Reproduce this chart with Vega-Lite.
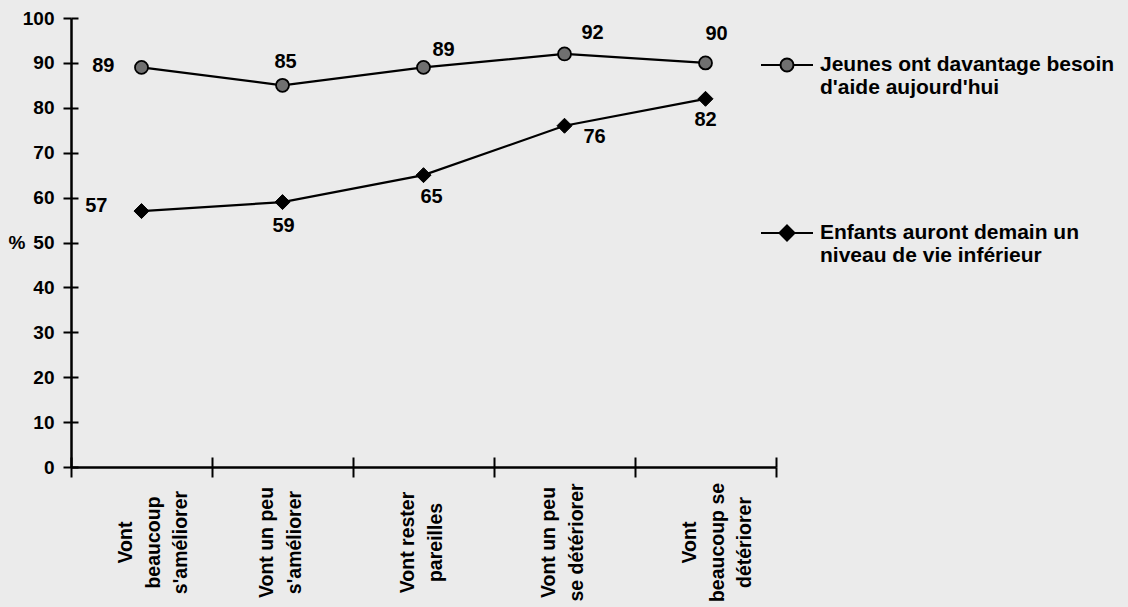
{
  "$schema": "https://vega.github.io/schema/vega-lite/v6.json",
  "width": 705,
  "height": 449,
  "autosize": {"type": "none"},
  "padding": {"left": 71, "top": 18, "right": 352, "bottom": 140},
  "background": "#ebebeb",
  "config": {
    "font": "Liberation Sans",
    "view": {"stroke": null},
    "text": {"font": "Liberation Sans", "fontSize": 20, "fontWeight": "bold", "color": "black", "baseline": "middle"}
  },
  "data": {
    "values": [
      {"cat": "Vont beaucoup s'améliorer", "serie": "Jeunes ont davantage besoin d'aide aujourd'hui", "pct": 89},
      {"cat": "Vont un peu s'améliorer", "serie": "Jeunes ont davantage besoin d'aide aujourd'hui", "pct": 85},
      {"cat": "Vont rester pareilles", "serie": "Jeunes ont davantage besoin d'aide aujourd'hui", "pct": 89},
      {"cat": "Vont un peu se détériorer", "serie": "Jeunes ont davantage besoin d'aide aujourd'hui", "pct": 92},
      {"cat": "Vont beaucoup se détériorer", "serie": "Jeunes ont davantage besoin d'aide aujourd'hui", "pct": 90},
      {"cat": "Vont beaucoup s'améliorer", "serie": "Enfants auront demain un niveau de vie inférieur", "pct": 57},
      {"cat": "Vont un peu s'améliorer", "serie": "Enfants auront demain un niveau de vie inférieur", "pct": 59},
      {"cat": "Vont rester pareilles", "serie": "Enfants auront demain un niveau de vie inférieur", "pct": 65},
      {"cat": "Vont un peu se détériorer", "serie": "Enfants auront demain un niveau de vie inférieur", "pct": 76},
      {"cat": "Vont beaucoup se détériorer", "serie": "Enfants auront demain un niveau de vie inférieur", "pct": 82}
    ]
  },
  "encoding": {
    "x": {
      "field": "cat",
      "type": "nominal",
      "sort": ["Vont beaucoup s'améliorer", "Vont un peu s'améliorer", "Vont rester pareilles", "Vont un peu se détériorer", "Vont beaucoup se détériorer"],
      "scale": {"type": "band", "paddingInner": 0, "paddingOuter": 0},
      "axis": {
        "title": null,
        "tickBand": "extent",
        "labelAngle": -90,
        "labelAlign": "center",
        "labelBaseline": "middle",
        "labelPadding": 65,
        "labelOffset": -16,
        "labelFont": "Liberation Sans",
        "labelFontSize": 19.5,
        "labelFontWeight": "bold",
        "labelColor": "black",
        "labelLineHeight": 27.5,
        "labelLimit": 400,
        "labelOverlap": false,
        "labelExpr": "{\"Vont beaucoup s'améliorer\": ['Vont', 'beaucoup', \"s'améliorer\"], \"Vont un peu s'améliorer\": ['Vont un peu', \"s'améliorer\"], 'Vont rester pareilles': ['Vont rester', 'pareilles'], 'Vont un peu se détériorer': ['Vont un peu', 'se détériorer'], 'Vont beaucoup se détériorer': ['Vont', 'beaucoup se', 'détériorer']}[datum.label]",
        "domainColor": "black",
        "domainWidth": 2.5,
        "tickColor": "black",
        "tickWidth": 2,
        "tickSize": 10,
        "grid": true,
        "gridColor": "black",
        "gridOpacity": 1,
        "gridWidth": 2,
        "gridDash": [0, 439, 10, 1000]
      }
    },
    "y": {
      "field": "pct",
      "type": "quantitative",
      "scale": {"domain": [0, 100], "nice": false},
      "axis": {
        "title": "%",
        "titleAngle": 0,
        "titleAlign": "left",
        "titleBaseline": "middle",
        "titleX": -63,
        "titleY": 224.5,
        "titleFont": "Liberation Sans",
        "titleFontSize": 19,
        "titleFontWeight": "bold",
        "titleColor": "black",
        "values": [0, 10, 20, 30, 40, 50, 60, 70, 80, 90, 100],
        "labelFont": "Liberation Sans",
        "labelFontSize": 19,
        "labelFontWeight": "bold",
        "labelColor": "black",
        "labelPadding": 9,
        "domainColor": "black",
        "domainWidth": 2.5,
        "tickColor": "black",
        "tickWidth": 2,
        "tickSize": 8,
        "grid": true,
        "gridColor": "black",
        "gridOpacity": 1,
        "gridWidth": 2,
        "gridDash": [7, 2000]
      }
    }
  },
  "layer": [
    {
      "mark": {"type": "line", "strokeWidth": 2.2},
      "encoding": {
        "color": {
          "field": "serie",
          "type": "nominal",
          "scale": {
            "domain": ["Jeunes ont davantage besoin d'aide aujourd'hui", "Enfants auront demain un niveau de vie inférieur"],
            "range": ["black", "black"]
          },
          "legend": {
            "orient": "none",
            "legendX": 689,
            "legendY": 20,
            "title": null,
            "padding": 0,
            "symbolSize": 2704,
            "symbolStrokeWidth": 2,
            "labelFont": "Liberation Sans",
            "labelFontSize": 21,
            "labelFontWeight": "bold",
            "labelColor": "black",
            "labelLimit": 500,
            "labelOffset": 6,
            "labelLineHeight": 23,
            "labelBaseline": "middle",
            "rowPadding": 108,
            "labelExpr": "indexof(datum.label, 'Jeunes') === 0 ? ['Jeunes ont davantage besoin', \"d'aide aujourd'hui\"] : ['Enfants auront demain un', 'niveau de vie inférieur']",
            "encode": {
              "symbols": {
                "update": {
                  "shape": {"signal": "indexof(datum.value, 'Jeunes') === 0 ? 'M-1,0H-0.25M0.25,0H1M0.25,0A0.25,0.25,0,1,1,-0.25,0A0.25,0.25,0,1,1,0.25,0Z' : 'M-1,0H1M0,-0.29L0.29,0L0,0.29L-0.29,0Z'"},
                  "fill": {"signal": "indexof(datum.value, 'Jeunes') === 0 ? '#707070' : 'black'"},
                  "stroke": {"value": "black"},
                  "strokeWidth": {"value": 2},
                  "opacity": {"value": 1}
                }
              }
            }
          }
        }
      }
    },
    {
      "transform": [{"filter": {"field": "serie", "equal": "Jeunes ont davantage besoin d'aide aujourd'hui"}}],
      "mark": {"type": "point", "shape": "circle", "size": 169, "filled": true, "fill": "#707070", "stroke": "black", "strokeWidth": 1.8, "opacity": 1}
    },
    {
      "transform": [{"filter": {"field": "serie", "equal": "Enfants auront demain un niveau de vie inférieur"}}],
      "mark": {"type": "point", "shape": "diamond", "size": 225, "filled": true, "fill": "black", "stroke": "black", "strokeWidth": 1, "opacity": 1}
    },
    {
      "encoding": {"text": {"field": "pct", "type": "quantitative"}},
      "layer": [
        {
          "transform": [{"filter": {"and": [{"field": "serie", "equal": "Jeunes ont davantage besoin d'aide aujourd'hui"}, {"field": "cat", "equal": "Vont beaucoup s'améliorer"}]}}],
          "mark": {"type": "text", "align": "right", "dx": -27, "dy": -1}
        },
        {
          "transform": [{"filter": {"and": [{"field": "serie", "equal": "Jeunes ont davantage besoin d'aide aujourd'hui"}, {"field": "cat", "equal": "Vont un peu s'améliorer"}]}}],
          "mark": {"type": "text", "align": "center", "dx": 3, "dy": -23}
        },
        {
          "transform": [{"filter": {"and": [{"field": "serie", "equal": "Jeunes ont davantage besoin d'aide aujourd'hui"}, {"field": "cat", "equal": "Vont rester pareilles"}]}}],
          "mark": {"type": "text", "align": "center", "dx": 20, "dy": -17}
        },
        {
          "transform": [{"filter": {"and": [{"field": "serie", "equal": "Jeunes ont davantage besoin d'aide aujourd'hui"}, {"field": "cat", "equal": "Vont un peu se détériorer"}]}}],
          "mark": {"type": "text", "align": "center", "dx": 28, "dy": -21}
        },
        {
          "transform": [{"filter": {"and": [{"field": "serie", "equal": "Jeunes ont davantage besoin d'aide aujourd'hui"}, {"field": "cat", "equal": "Vont beaucoup se détériorer"}]}}],
          "mark": {"type": "text", "align": "center", "dx": 11, "dy": -29}
        },
        {
          "transform": [{"filter": {"and": [{"field": "serie", "equal": "Enfants auront demain un niveau de vie inférieur"}, {"field": "cat", "equal": "Vont beaucoup s'améliorer"}]}}],
          "mark": {"type": "text", "align": "right", "dx": -34, "dy": -5}
        },
        {
          "transform": [{"filter": {"and": [{"field": "serie", "equal": "Enfants auront demain un niveau de vie inférieur"}, {"field": "cat", "equal": "Vont un peu s'améliorer"}]}}],
          "mark": {"type": "text", "align": "center", "dx": 1, "dy": 24}
        },
        {
          "transform": [{"filter": {"and": [{"field": "serie", "equal": "Enfants auront demain un niveau de vie inférieur"}, {"field": "cat", "equal": "Vont rester pareilles"}]}}],
          "mark": {"type": "text", "align": "center", "dx": 8, "dy": 22}
        },
        {
          "transform": [{"filter": {"and": [{"field": "serie", "equal": "Enfants auront demain un niveau de vie inférieur"}, {"field": "cat", "equal": "Vont un peu se détériorer"}]}}],
          "mark": {"type": "text", "align": "center", "dx": 30, "dy": 11}
        },
        {
          "transform": [{"filter": {"and": [{"field": "serie", "equal": "Enfants auront demain un niveau de vie inférieur"}, {"field": "cat", "equal": "Vont beaucoup se détériorer"}]}}],
          "mark": {"type": "text", "align": "center", "dx": 0, "dy": 21}
        }
      ]
    }
  ]
}
